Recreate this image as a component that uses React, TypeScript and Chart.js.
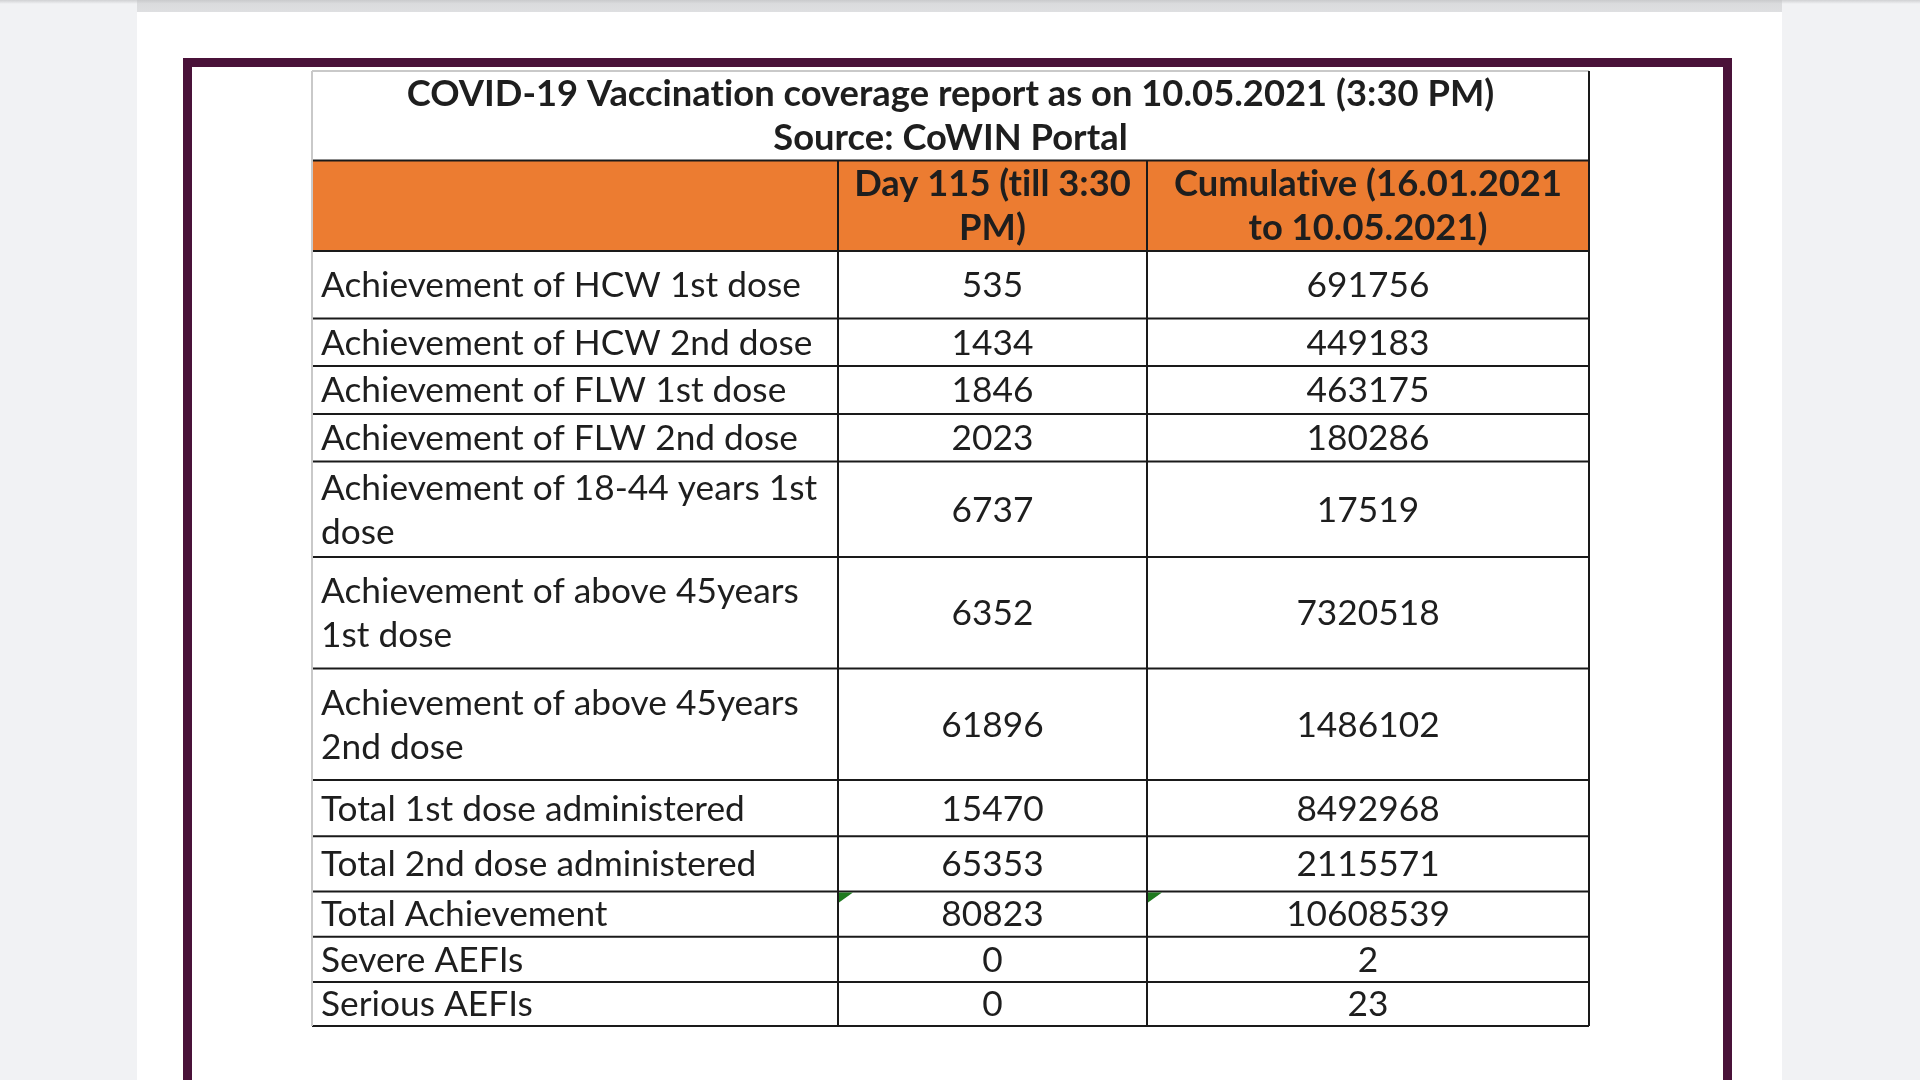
import React, { useEffect, useRef } from "react";
import { Chart, registerables } from "chart.js";

Chart.register(...registerables);

// ---------- data ----------
const TITLE_LINES = [
  "COVID-19 Vaccination coverage report as on 10.05.2021 (3:30 PM)",
  "Source: CoWIN Portal",
];
const COLUMN_HEADERS = ["", "Day 115 (till 3:30\nPM)", "Cumulative (16.01.2021\nto 10.05.2021)"];
const ROW_LABELS = [
  "Achievement of HCW 1st dose",
  "Achievement of HCW 2nd dose",
  "Achievement of FLW 1st dose",
  "Achievement of FLW 2nd dose",
  "Achievement of 18-44 years 1st\ndose",
  "Achievement of above 45years\n1st dose",
  "Achievement of above 45years\n2nd dose",
  "Total 1st dose administered",
  "Total 2nd dose administered",
  "Total Achievement",
  "Severe AEFIs",
  "Serious AEFIs",
];
const DAY_115_VALUES = [535, 1434, 1846, 2023, 6737, 6352, 61896, 15470, 65353, 80823, 0, 0];
const CUMULATIVE_VALUES = [691756, 449183, 463175, 180286, 17519, 7320518, 1486102, 8492968, 2115571, 10608539, 2, 23];
const FLAGGED_ROWS = ["Total Achievement"];

// ---------- layout (table units) ----------
const TABLE_W = 1277;
const TABLE_H = 955;
const COL_EDGES = [0, 526, 835, 1277];
const ROW_EDGES = [0, 89.4, 180, 247.4, 295, 343, 390.6, 486, 597.6, 709, 765.3, 820.4, 865.7, 911, 955];
const LABEL_INSET = 9;
const LINE_H = 44;

const FONT = "Lato";
const TEXT = "#1e1e1e";
const ORANGE = "#ec7c31";
const PURPLE = "#4a1239";
const GRID = "#1a1a1a";
const LIGHT = "#c9c9c9";

function fitSize(ctx: CanvasRenderingContext2D, text: string, weight: string, target: number) {
  ctx.font = `${weight} 100px ${FONT}`;
  const w = ctx.measureText(text).width;
  return (100 * target) / w;
}

const tablePlugin = {
  id: "tablePlugin",
  beforeDraw(chart: any) {
    const ctx: CanvasRenderingContext2D = chart.ctx;
    const W = chart.width;
    const H = chart.height;
    ctx.save();
    ctx.fillStyle = "#f1f2f4";
    ctx.fillRect(0, 0, W, H);
    ctx.fillStyle = "#ffffff";
    ctx.fillRect(137, 0, 1645, H);
    const g = ctx.createLinearGradient(0, 0, 0, 12);
    g.addColorStop(0, "#c9cacc");
    g.addColorStop(0.3, "#dadbdd");
    g.addColorStop(1, "#dedfe1");
    ctx.fillStyle = g;
    ctx.fillRect(137, 0, 1645, 12);
    const g2 = ctx.createLinearGradient(0, 0, 0, 4);
    g2.addColorStop(0, "#d0d1d3");
    g2.addColorStop(1, "#f1f2f4");
    ctx.fillStyle = g2;
    ctx.fillRect(0, 0, 137, 4);
    ctx.fillRect(1782, 0, W - 1782, 4);
    ctx.fillStyle = PURPLE;
    ctx.fillRect(183, 58, 1549, 9);
    ctx.fillRect(183, 58, 9, H - 58);
    ctx.fillRect(1723, 58, 9, H - 58);
    ctx.restore();
  },
  afterDraw(chart: any) {
    const ctx: CanvasRenderingContext2D = chart.ctx;
    const xs = chart.scales.x;
    const ys = chart.scales.y;
    const X = (v: number) => xs.getPixelForValue(v);
    const Y = (v: number) => ys.getPixelForValue(v);
    ctx.save();

    const reg = fitSize(ctx, ROW_LABELS[0], "400", 480);
    const bold = fitSize(ctx, TITLE_LINES[0], "700", 1088);

    ctx.fillStyle = ORANGE;
    ctx.fillRect(X(0), Y(ROW_EDGES[1]), X(TABLE_W) - X(0), Y(ROW_EDGES[2]) - Y(ROW_EDGES[1]));

    ctx.lineWidth = 2;
    const hline = (v: number, col: string) => {
      ctx.strokeStyle = col;
      ctx.beginPath();
      ctx.moveTo(X(0), Y(v));
      ctx.lineTo(X(TABLE_W), Y(v));
      ctx.stroke();
    };
    ROW_EDGES.forEach((v, i) => hline(v, i === 0 ? LIGHT : GRID));
    ctx.strokeStyle = LIGHT;
    ctx.beginPath();
    ctx.moveTo(X(0), Y(0));
    ctx.lineTo(X(0), Y(TABLE_H));
    ctx.stroke();
    ctx.strokeStyle = GRID;
    [1, 2].forEach((c) => {
      ctx.beginPath();
      ctx.moveTo(X(COL_EDGES[c]), Y(ROW_EDGES[1]));
      ctx.lineTo(X(COL_EDGES[c]), Y(TABLE_H));
      ctx.stroke();
    });
    ctx.beginPath();
    ctx.moveTo(X(TABLE_W), Y(0));
    ctx.lineTo(X(TABLE_W), Y(TABLE_H));
    ctx.stroke();

    // flagged-cell triangles
    ROW_LABELS.forEach((lab, i) => {
      if (!FLAGGED_ROWS.includes(lab)) return;
      const top = Y(ROW_EDGES[i + 2]) + 1;
      [1, 2].forEach((c) => {
        const left = X(COL_EDGES[c]) + 1;
        ctx.fillStyle = "#1f7a1f";
        ctx.beginPath();
        ctx.moveTo(left, top);
        ctx.lineTo(left + 14, top);
        ctx.lineTo(left, top + 10);
        ctx.closePath();
        ctx.fill();
      });
    });

    const drawLines = (text: string, x: number, yc: number, align: CanvasTextAlign) => {
      const lines = text.split("\n");
      ctx.textAlign = align;
      lines.forEach((ln, k) => {
        const y = yc + (k - (lines.length - 1) / 2) * LINE_H;
        ctx.fillText(ln, x, y);
      });
    };

    ctx.fillStyle = TEXT;
    ctx.textBaseline = "middle";
    (ctx as any).letterSpacing = "0.01px";

    ctx.font = `700 ${bold}px ${FONT}`;
    drawLines(TITLE_LINES.join("\n"), X(TABLE_W / 2), (Y(ROW_EDGES[0]) + Y(ROW_EDGES[1])) / 2 + 1, "center");

    COLUMN_HEADERS.forEach((h, c) => {
      if (!h) return;
      drawLines(h, (X(COL_EDGES[c]) + X(COL_EDGES[c + 1])) / 2, (Y(ROW_EDGES[1]) + Y(ROW_EDGES[2])) / 2 + 1, "center");
    });

    ctx.font = `400 ${reg}px ${FONT}`;
    ROW_LABELS.forEach((lab, i) => {
      const yc = (Y(ROW_EDGES[i + 2]) + Y(ROW_EDGES[i + 3])) / 2 + 1;
      drawLines(lab, X(LABEL_INSET), yc, "left");
      drawLines(String(DAY_115_VALUES[i]), (X(COL_EDGES[1]) + X(COL_EDGES[2])) / 2, yc, "center");
      drawLines(String(CUMULATIVE_VALUES[i]), (X(COL_EDGES[2]) + X(COL_EDGES[3])) / 2, yc, "center");
    });

    ctx.restore();
  },
};

export default function App() {
  const ref = useRef<HTMLCanvasElement | null>(null);
  useEffect(() => {
    document.body.style.margin = "0";
    let chart: Chart | null = null;
    let cancelled = false;
    const make = () => {
      if (cancelled || !ref.current) return;
      chart = new Chart(ref.current, {
        type: "scatter",
        data: { datasets: [] },
        options: {
          responsive: false,
          animation: false,
          devicePixelRatio: 1,
          layout: { padding: { left: 312, right: 1920 - 1589, top: 71, bottom: 1080 - 1026 } },
          plugins: { legend: { display: false }, tooltip: { enabled: false } },
          scales: {
            x: { type: "linear", min: 0, max: TABLE_W, display: false },
            y: { type: "linear", min: 0, max: TABLE_H, reverse: true, display: false },
          },
        },
        plugins: [tablePlugin],
      });
    };
    Promise.all([
      document.fonts.load(`400 30px ${FONT}`),
      document.fonts.load(`700 30px ${FONT}`),
    ]).then(make, make);
    return () => {
      cancelled = true;
      if (chart) chart.destroy();
    };
  }, []);
  return <canvas ref={ref} width={1920} height={1080} style={{ display: "block", width: 1920, height: 1080 }} />;
}
